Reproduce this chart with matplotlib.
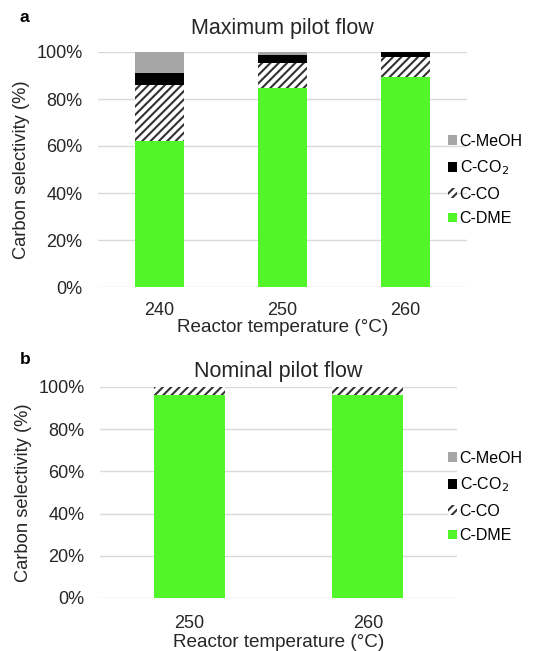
import matplotlib.pyplot as plt
import numpy as np

plt.rcParams['font.family'] = ['Liberation Sans', 'DejaVu Sans']
plt.rcParams['hatch.linewidth'] = 1.5

series = ['C-DME', 'C-CO', 'C-CO$_2$', 'C-MeOH']
colors = ['#52F52A', 'white', 'black', '#A6A6A6']
hatches = [None, '////', None, None]

temps_a = ['240', '250', '260']
dme_a = [62.3, 84.5, 89.5]
co_a = [23.7, 10.7, 8.5]
co2_a = [4.9, 3.4, 1.8]
meoh_a = [9.1, 1.4, 0.2]

temps_b = ['250', '260']
dme_b = [96.0, 96.0]
co_b = [4.0, 4.0]
co2_b = [0.0, 0.0]
meoh_b = [0.0, 0.0]

W, H = 539, 651
fig = plt.figure(figsize=(W / 100, H / 100), dpi=100)
txt = '#262626'


def panel(rect, temps, vals, title, title_pad, xpad, xlpad, letter, letter_y, legend_y):
    l, t, r, b = rect
    ax = fig.add_axes([l / W, 1 - b / H, (r - l) / W, (b - t) / H])
    x = np.arange(len(temps))
    bottom = np.zeros(len(temps))
    handles = []
    for name, v, c, h in zip(series, vals, colors, hatches):
        bars = ax.bar(x, v, 0.4, bottom=bottom, color=c, hatch=h,
                      edgecolor='#333333' if h else c, linewidth=0, label=name, zorder=3)
        handles.append(bars)
        bottom += np.array(v)
    ax.set_ylim(0, 100)
    ax.set_xlim(-0.5, len(temps) - 0.5)
    ax.set_yticks(range(0, 101, 20))
    ax.set_yticklabels([f'{v}%' for v in range(0, 101, 20)], fontsize=13, color=txt)
    ax.set_xticks(x)
    ax.set_xticklabels(temps, fontsize=13, color=txt)
    ax.tick_params(axis='y', length=0, pad=11)
    ax.tick_params(axis='x', length=0, pad=xpad)
    ax.grid(axis='y', color='#d9d9d9', linewidth=1, zorder=0)
    for s in ax.spines.values():
        s.set_visible(False)
    ax.set_ylabel('Carbon selectivity (%)', fontsize=13.2, color=txt, labelpad=5)
    ax.set_xlabel('Reactor temperature (°C)', fontsize=13.6, color=txt, labelpad=xlpad)
    ax.set_title(title, fontsize=15.5, color=txt, pad=title_pad)
    fig.text(20 / W, 1 - letter_y / H, letter, fontsize=12.5,
             fontweight='bold', va='center', ha='left')
    ax.legend(handles[::-1], series[::-1], loc='center left',
              bbox_to_anchor=(442 / W, 1 - legend_y / H), bbox_transform=fig.transFigure,
              frameon=False, fontsize=11.5, handlelength=0.55, handleheight=0.55,
              handletextpad=0.15, labelspacing=0.6, borderaxespad=0)
    return ax


panel((98, 52, 467, 287), temps_a, [dme_a, co_a, co2_a, meoh_a],
      'Maximum pilot flow', 13, 11, 0, 'a', 18, 180)
panel((100, 387, 457, 598), temps_b, [dme_b, co_b, co2_b, meoh_b],
      'Nominal pilot flow', 7, 12, 2, 'b', 359, 497)

fig.savefig('out.png', dpi=100)
